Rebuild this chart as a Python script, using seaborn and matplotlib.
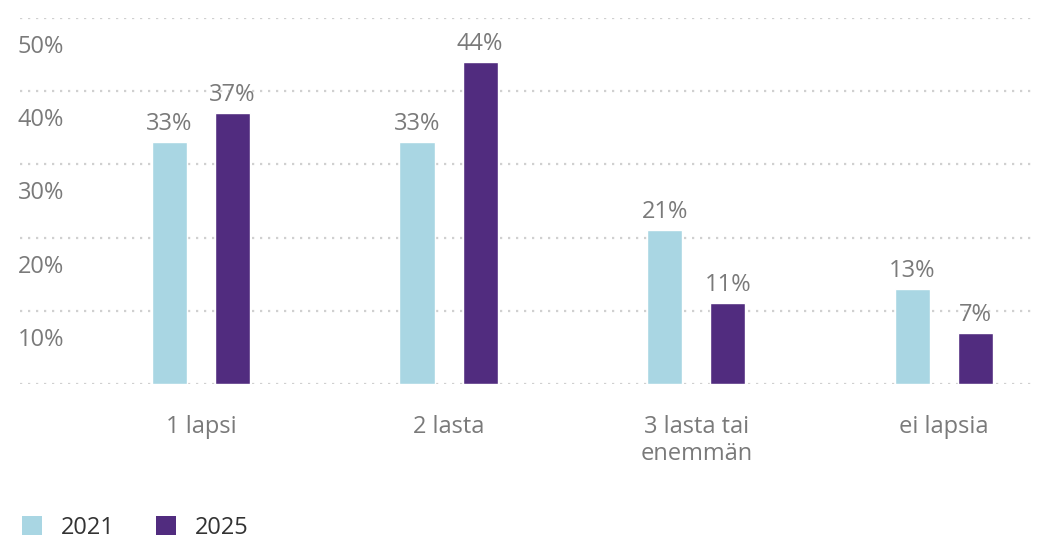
import matplotlib
matplotlib.use("Agg")
import matplotlib.pyplot as plt
import matplotlib.transforms as mtransforms
import seaborn as sns
import pandas as pd

categories = ["1 lapsi", "2 lasta", "3 lasta tai\nenemmän", "ei lapsia"]
years = ["2021", "2025"]
values_2021 = [33, 33, 21, 13]
values_2025 = [37, 44, 11, 7]
ytick_values = [10, 20, 30, 40, 50]
colors = ["#A9D6E3", "#512C7F"]

df = pd.DataFrame({
    "category": categories * 2,
    "year": [years[0]] * 4 + [years[1]] * 4,
    "value": values_2021 + values_2025,
})

sns.set_theme(style="white")
plt.rcParams["font.family"] = ["Open Sans", "DejaVu Sans"]

fig = plt.figure(figsize=(10.41, 5.44), dpi=100)
ax = fig.add_axes([20 / 1041, 1 - 384 / 544, (1035 - 20) / 1041, (384 - 18) / 544])

sns.barplot(data=df, x="category", y="value", hue="year", palette=colors,
            width=0.51, gap=0.445, ax=ax, legend=False, saturation=1,
            order=categories, hue_order=years)

ax.set_xlim(-0.73, 3.367)
ax.set_ylim(0, 50)

# dotted gridlines
for v in [0] + ytick_values:
    ax.axhline(v, color="#d0d0d0", lw=1.6, linestyle=(0, (1, 2.6)), zorder=0)

# y labels placed below their gridline
ax.set_yticks([])
offset = mtransforms.ScaledTranslation(0, -0.29, fig.dpi_scale_trans)
trans = mtransforms.blended_transform_factory(ax.transAxes, ax.transData) + offset
for v in ytick_values:
    ax.text(-0.002, v, f"{v}%", transform=trans, ha="left", va="center",
            fontsize=17, color="#7a7a7a")

for c in ax.containers:
    ax.bar_label(c, fmt="%d%%", padding=4.5, fontsize=17, color="#7a7a7a")

ax.set_xlabel("")
ax.set_ylabel("")
ax.tick_params(axis="x", length=0, pad=22, labelsize=17, labelcolor="#7a7a7a")
for s in ax.spines.values():
    s.set_visible(False)

handles = [plt.Rectangle((0, 0), 1, 1, facecolor=col, edgecolor="none") for col in colors]
fig.legend(handles, years, loc="center left", bbox_to_anchor=(22 / 1041, 0.03),
           frameon=False, borderpad=0, borderaxespad=0, ncol=2, fontsize=17,
           handlelength=0.85, handleheight=0.85, handletextpad=0.8,
           columnspacing=1.75, labelcolor="#333333")

fig.savefig("out.png", dpi=100)
